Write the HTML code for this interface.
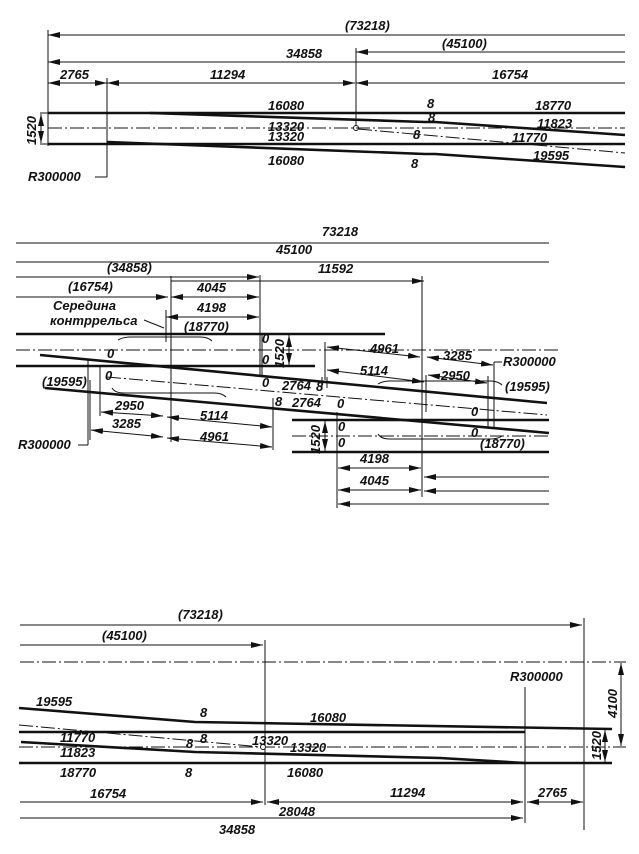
<!DOCTYPE html>
<html><head><meta charset="utf-8"><style>
html,body{margin:0;padding:0;background:#fff}
svg{display:block}
text{font-family:"Liberation Sans",sans-serif;font-style:italic;font-weight:bold;font-size:13px;fill:#111}
.d{stroke:#111;stroke-width:1;fill:none}
.r{stroke:#111;stroke-width:2.6;fill:none}
.c{stroke:#111;stroke-width:1;fill:none;stroke-dasharray:14 3 2 3}
.a{stroke:#111;stroke-width:1;fill:none;marker-end:url(#ar)}
.b{stroke:#111;stroke-width:1;fill:none;marker-end:url(#ar);marker-start:url(#al)}
.s{stroke:#111;stroke-width:1;fill:none;marker-start:url(#al)}
</style></head><body>
<svg width="639" height="854" viewBox="0 0 639 854" xmlns="http://www.w3.org/2000/svg">
<defs>
<marker id="ar" markerWidth="12" markerHeight="6" refX="12" refY="3" orient="auto" markerUnits="userSpaceOnUse"><path d="M0,0 L12,3 L0,6 Z" fill="#111"/></marker>
<marker id="al" markerWidth="12" markerHeight="6" refX="0" refY="3" orient="auto" markerUnits="userSpaceOnUse"><path d="M12,0 L0,3 L12,6 Z" fill="#111"/></marker>
</defs>

<!-- SECTION 1 -->
<line class="d" x1="48" y1="30" x2="48" y2="146"/>
<line class="s" x1="48" y1="35" x2="625" y2="35"/><text x="345" y="30">(73218)</text>
<line class="s" x1="356" y1="52" x2="625" y2="52"/><text x="442" y="48">(45100)</text>
<line class="s" x1="48" y1="62" x2="625" y2="62"/><text x="286" y="58">34858</text>
<line class="b" x1="48" y1="83" x2="107" y2="83"/><text x="60" y="79">2765</text>
<line class="b" x1="107" y1="83" x2="355" y2="83"/><text x="210" y="79">11294</text>
<line class="s" x1="356" y1="83" x2="625" y2="83"/><text x="492" y="79">16754</text>
<line class="d" x1="356" y1="48" x2="356" y2="126"/>
<circle cx="356" cy="128" r="2.5" fill="#fff" stroke="#111"/>
<line class="d" x1="107" y1="78" x2="107" y2="177"/><line class="d" x1="95" y1="177" x2="107" y2="177"/>
<text x="28" y="181">R300000</text>
<line class="r" x1="48" y1="113" x2="625" y2="113"/>
<polyline class="r" points="150,113 425,122 435,122 625,135"/>
<line class="c" x1="48" y1="128" x2="625" y2="128"/>
<line class="c" x1="358" y1="129" x2="625" y2="153"/>
<line class="r" x1="48" y1="144" x2="625" y2="144"/>
<polyline class="r" points="107,142 425,154 435,154 625,167"/>
<line class="d" x1="40" y1="113" x2="48" y2="113"/><line class="d" x1="40" y1="144" x2="48" y2="144"/>
<line class="b" x1="41" y1="114" x2="41" y2="143"/>
<text transform="translate(36,145) rotate(-90)">1520</text>
<text x="268" y="110">16080</text><text x="535" y="110">18770</text><text x="427" y="108">8</text>
<text x="268" y="131">13320</text><text x="537" y="128">11823</text><text x="428" y="122">8</text>
<text x="268" y="141">13320</text><text x="512" y="142">11770</text><text x="413" y="139">8</text>
<text x="268" y="165">16080</text><text x="533" y="160">19595</text><text x="411" y="168">8</text>

<!-- SECTION 2 -->
<line class="d" x1="16" y1="243" x2="549" y2="243"/><text x="322" y="236">73218</text>
<line class="d" x1="16" y1="262" x2="549" y2="262"/><text x="276" y="254">45100</text>
<line class="a" x1="16" y1="277" x2="259" y2="277"/><text x="107" y="272">(34858)</text>
<line class="a" x1="171" y1="281" x2="424" y2="281"/><text x="318" y="273">11592</text>
<line class="a" x1="16" y1="297" x2="168" y2="297"/><text x="68" y="291">(16754)</text>
<line class="b" x1="171" y1="297" x2="259" y2="297"/><text x="197" y="292">4045</text>
<line class="b" x1="166" y1="317" x2="259" y2="317"/><text x="197" y="312">4198</text>
<text x="53" y="310">Середина</text><text x="50" y="325">контррельса</text>
<line class="d" x1="144" y1="320" x2="164" y2="328"/>
<text x="184" y="331">(18770)</text>
<line class="d" x1="171" y1="276" x2="171" y2="442"/>
<line class="d" x1="166" y1="310" x2="166" y2="342"/>
<line class="d" x1="260" y1="275" x2="260" y2="377"/>
<line class="d" x1="422" y1="276" x2="422" y2="497"/>
<line class="d" x1="426" y1="375" x2="426" y2="412"/>
<line class="r" x1="16" y1="334" x2="385" y2="334"/>
<line class="c" x1="16" y1="350" x2="560" y2="350"/>
<line class="r" x1="16" y1="366" x2="315" y2="366"/>
<line class="r" x1="40" y1="355" x2="547" y2="403"/>
<line class="c" x1="107" y1="377" x2="547" y2="415"/>
<line class="r" x1="45" y1="388" x2="549" y2="433"/>
<line class="d" x1="262" y1="334" x2="262" y2="377"/>
<line class="b" x1="289" y1="335" x2="289" y2="365"/>
<text transform="translate(284,368) rotate(-90)">1520</text>
<path class="d" d="M118,340 q5,-3 12,-3 h70 q8,0 12,4"/>
<path class="d" d="M112,388 q3,5 12,5 h90 q8,0 12,4"/>
<path class="d" d="M378,384 q5,-3 12,-3 h100 q8,0 12,4"/>
<path class="d" d="M378,434 q3,5 12,5 h100 q8,0 12,-3"/>
<text x="107" y="358">0</text><text x="262" y="343">0</text><text x="262" y="364">0</text><text x="262" y="387">0</text><text x="105" y="380">0</text>
<text x="42" y="386">(19595)</text>
<text x="282" y="390">2764</text><text x="316" y="391">8</text>
<text x="275" y="406">8</text><text x="292" y="407">2764</text><text x="337" y="408">0</text>
<line class="d" x1="322" y1="377" x2="322" y2="388" /><line class="d" x1="327" y1="377" x2="327" y2="388"/>
<line class="d" x1="273" y1="398" x2="273" y2="450"/>
<line class="d" x1="100" y1="365" x2="100" y2="416"/>
<line class="d" x1="90" y1="380" x2="90" y2="440"/>
<line class="b" x1="101" y1="412" x2="163" y2="416"/><text x="115" y="410">2950</text>
<line class="b" x1="91" y1="430" x2="163" y2="437"/><text x="112" y="428">3285</text>
<line class="b" x1="167" y1="417" x2="272" y2="427"/><text x="200" y="420">5114</text>
<line class="b" x1="167" y1="438" x2="272" y2="447"/><text x="200" y="441">4961</text>
<line class="d" x1="88" y1="360" x2="88" y2="445"/><line class="d" x1="78" y1="445" x2="88" y2="445"/>
<text x="18" y="449">R300000</text>
<line class="d" x1="325" y1="342" x2="325" y2="380"/>
<line class="b" x1="327" y1="347" x2="420" y2="357"/><text x="370" y="353">4961</text>
<line class="b" x1="427" y1="357" x2="493" y2="365"/><text x="443" y="360">3285</text>
<line class="b" x1="327" y1="370" x2="424" y2="382"/><text x="360" y="375">5114</text>
<line class="b" x1="428" y1="375" x2="487" y2="383"/><text x="441" y="380">2950</text>
<line class="d" x1="488" y1="376" x2="488" y2="428"/>
<line class="d" x1="494" y1="362" x2="494" y2="428"/><line class="d" x1="494" y1="362" x2="502" y2="362"/>
<text x="503" y="366">R300000</text>
<text x="505" y="391">(19595)</text>
<line class="r" x1="292" y1="420" x2="549" y2="420"/>
<line class="c" x1="292" y1="436" x2="549" y2="436"/>
<line class="r" x1="292" y1="452" x2="549" y2="452"/>
<text x="338" y="431">0</text><text x="338" y="447">0</text><text x="471" y="416">0</text><text x="471" y="437">0</text>
<text x="480" y="448">(18770)</text>
<line class="b" x1="325" y1="421" x2="325" y2="451"/>
<text transform="translate(320,454) rotate(-90)">1520</text>
<line class="d" x1="337" y1="412" x2="337" y2="508"/>
<line class="b" x1="338" y1="468" x2="421" y2="468"/><text x="360" y="463">4198</text>
<line class="b" x1="338" y1="490" x2="421" y2="490"/><text x="360" y="485">4045</text>
<line class="s" x1="424" y1="477" x2="549" y2="477"/>
<line class="s" x1="424" y1="491" x2="549" y2="491"/>
<line class="s" x1="338" y1="504" x2="549" y2="504"/>

<!-- SECTION 3 -->
<line class="a" x1="20" y1="625" x2="582" y2="625"/><text x="178" y="619">(73218)</text>
<line class="a" x1="20" y1="645" x2="263" y2="645"/><text x="102" y="640">(45100)</text>
<line class="d" x1="265" y1="640" x2="265" y2="805"/>
<line class="d" x1="584" y1="618" x2="584" y2="830"/>
<line class="c" x1="20" y1="662" x2="626" y2="662"/>
<line class="b" x1="621" y1="663" x2="621" y2="746"/>
<text transform="translate(617,718) rotate(-90)">4100</text>
<text x="510" y="681">R300000</text>
<line class="d" x1="525" y1="687" x2="525" y2="823"/>
<polyline class="r" points="19,708 195,722 612,729"/>
<line class="r" x1="19" y1="732" x2="525" y2="732"/>
<line class="c" x1="19" y1="725" x2="262" y2="747"/>
<line class="c" x1="19" y1="747" x2="626" y2="747"/>
<polyline class="r" points="21,742 195,752 440,758 525,763"/>
<line class="r" x1="19" y1="763" x2="612" y2="763"/>
<circle cx="263" cy="747" r="2.5" fill="#fff" stroke="#111"/>
<line class="b" x1="605" y1="730" x2="605" y2="762"/>
<text transform="translate(601,760) rotate(-90)">1520</text>
<text x="36" y="706">19595</text><text x="310" y="722">16080</text><text x="200" y="717">8</text>
<text x="200" y="743">8</text><text x="186" y="748">8</text><text x="185" y="777">8</text>
<text x="60" y="742">11770</text><text x="60" y="757">11823</text><text x="60" y="777">18770</text>
<text x="252" y="745">13320</text><text x="290" y="752">13320</text><text x="287" y="777">16080</text>
<line class="a" x1="20" y1="802" x2="263" y2="802"/><text x="90" y="798">16754</text>
<line class="b" x1="267" y1="802" x2="523" y2="802"/><text x="390" y="797">11294</text>
<line class="b" x1="527" y1="802" x2="583" y2="802"/><text x="538" y="797">2765</text>
<line class="a" x1="20" y1="818" x2="523" y2="818"/><text x="279" y="816">28048</text>
<text x="219" y="834">34858</text>
</svg>
</body></html>
